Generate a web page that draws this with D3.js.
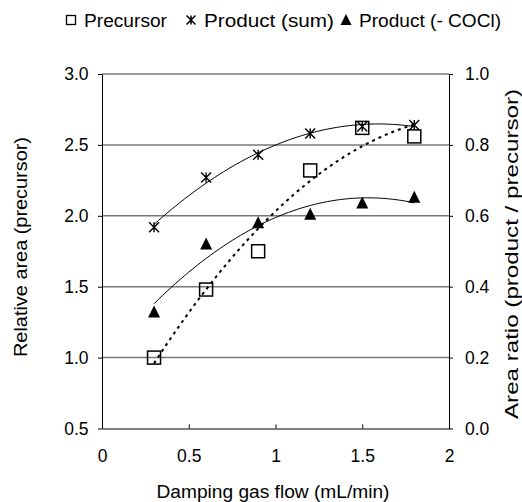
<!DOCTYPE html>
<html>
<head>
<meta charset="utf-8">
<script src="https://cdn.jsdelivr.net/npm/d3@7"></script>
<style>
body{margin:0;background:#fff}
text{font-family:"Liberation Sans",Arial,sans-serif;fill:#000}
</style>
</head>
<body>
<div id="chart"></div>
<script>
// data
let flow=[0.3,0.6,0.9,1.2,1.5,1.8]
let precursor=[1.0,1.48,1.75,2.32,2.62,2.56]          // left axis
let productSum=[0.568,0.708,0.772,0.832,0.852,0.856]  // right axis
let productNoCOCl=[0.328,0.52,0.58,0.604,0.636,0.652] // right axis
let xTicks=[0,0.5,1,1.5,2]
let leftTicks=[0.5,1.0,1.5,2.0,2.5,3.0]
let rightTicks=[0,0.2,0.4,0.6,0.8,1.0]
let legendNames=["Precursor","Product (sum)","Product (- COCl)"]

const width=522, height=502
const svg=d3.select("#chart").append("svg").attr("width",width).attr("height",height)

let x=d3.scaleLinear().domain([0,2]).range([102,449])
let yL=d3.scaleLinear().domain([0.5,3]).range([428.5,74])
let yR=d3.scaleLinear().domain([0,1]).range([428.5,74])

//2nd order polynomial trendline (least squares), like the spreadsheet one
function quadFit(xs,ys){
    let n=xs.length,sx=0,sx2=0,sx3=0,sx4=0,sy=0,sxy=0,sx2y=0
    xs.forEach((v,i)=>{sx+=v;sx2+=v*v;sx3+=v*v*v;sx4+=v*v*v*v;sy+=ys[i];sxy+=v*ys[i];sx2y+=v*v*ys[i]})
    let m=[[n,sx,sx2,sy],[sx,sx2,sx3,sxy],[sx2,sx3,sx4,sx2y]]
    for(let i=0;i<3;i++){
        for(let k=i+1;k<3;k++){
            let f=m[k][i]/m[i][i]
            for(let j=i;j<4;j++) m[k][j]-=f*m[i][j]
        }
    }
    let c=[0,0,0]
    for(let i=2;i>=0;i--){
        let s=m[i][3]
        for(let j=i+1;j<3;j++) s-=m[i][j]*c[j]
        c[i]=s/m[i][i]
    }
    return t=>c[0]+c[1]*t+c[2]*t*t
}
function trendPoints(xs,ys){
    let f=quadFit(xs,ys)
    return d3.range(0,61).map(i=>{let t=xs[0]+(xs[xs.length-1]-xs[0])*i/60;return [t,f(t)]})
}

//grid lines
svg.append("g").selectAll("line").data(leftTicks.slice(1)).enter().append("line")
    .attr("x1",x(0)).attr("x2",x(2)).attr("y1",d=>yL(d)).attr("y2",d=>yL(d))
    .attr("stroke","#777").attr("stroke-width",1.5)

//axes
let fmt=d3.format(".1f")
let gL=svg.append("g").attr("transform",`translate(${x(0)},0)`)
    .call(d3.axisLeft(yL).tickValues(leftTicks).tickFormat(fmt).tickSize(4).tickSizeOuter(0).tickPadding(9.5))
let gR=svg.append("g").attr("transform",`translate(${x(2)},0)`)
    .call(d3.axisRight(yR).tickValues(rightTicks).tickFormat(fmt).tickSize(4).tickSizeOuter(0).tickPadding(12))
let gB=svg.append("g").attr("transform",`translate(0,${yL(0.5)})`)
    .call(d3.axisBottom(x).tickValues(xTicks).tickFormat(d3.format("")).tickSize(-4).tickSizeOuter(0).tickPadding(21))
;[gL,gR,gB].forEach(g=>{
    g.selectAll("text").attr("font-size",17.5)
    g.attr("font-family",null)
    g.select(".domain").attr("stroke","#000")
})

//titles (lengths, glyphs a bit wide like the original)
function title(sel,len){return sel.attr("textLength",len).attr("lengthAdjust","spacingAndGlyphs")}
title(svg.append("text").attr("x",273).attr("y",498).attr("text-anchor","middle").attr("font-size",17.5)
    .text("Damping gas flow (mL/min)"),233)
title(svg.append("text").attr("transform","translate(27,247) rotate(-90)").attr("text-anchor","middle").attr("font-size",17.5)
    .text("Relative area (precursor)"),220)
title(svg.append("text").attr("transform","translate(518,254) rotate(-90)").attr("text-anchor","middle").attr("font-size",19)
    .text("Area ratio (product / precursor)"),330)

//trendlines
let lineL=d3.line().x(d=>x(d[0])).y(d=>yL(d[1]))
let lineR=d3.line().x(d=>x(d[0])).y(d=>yR(d[1]))
svg.append("path").attr("d",lineR(trendPoints(flow,productSum))).attr("fill","none").attr("stroke","#000").attr("stroke-width",1)
svg.append("path").attr("d",lineR(trendPoints(flow,productNoCOCl))).attr("fill","none").attr("stroke","#000").attr("stroke-width",1)
svg.append("path").attr("d",lineL(trendPoints(flow,precursor))).attr("fill","none").attr("stroke","#000").attr("stroke-width",2).attr("stroke-dasharray","3,4")

//marker shapes
function starPath(r){
    return `M0,${-r}L0,${r}M${-r},${-r}L${r},${r}M${-r},${r}L${r},${-r}`
}
function triPath(s){
    return `M0,${-s*0.55}L${s/2},${s*0.45}L${-s/2},${s*0.45}Z`
}

svg.append("g").selectAll("rect").data(flow).enter().append("rect")
    .attr("x",d=>x(d)-6.5).attr("y",(d,i)=>yL(precursor[i])-6.5).attr("width",13).attr("height",13)
    .attr("fill","none").attr("stroke","#000").attr("stroke-width",1.5)
svg.append("g").selectAll("path").data(flow).enter().append("path")
    .attr("transform",(d,i)=>`translate(${x(d)},${yR(productSum[i])})`)
    .attr("d",starPath(5)).attr("stroke","#000").attr("stroke-width",1.4).attr("fill","none")
svg.append("g").selectAll("path").data(flow).enter().append("path")
    .attr("transform",(d,i)=>`translate(${x(d)},${yR(productNoCOCl[i])})`)
    .attr("d",triPath(12)).attr("fill","#000")

//legend
let legend=svg.append("g").attr("transform","translate(0,20)")
let legX=[71,191,346]
let legLen=[83,130,142]
legend.append("rect").attr("x",legX[0]-4.5).attr("y",-4.5).attr("width",9).attr("height",9).attr("fill","#fff").attr("stroke","#000").attr("stroke-width",1.3)
legend.append("path").attr("transform",`translate(${legX[1]},0)`).attr("d",starPath(4.5)).attr("stroke","#000").attr("stroke-width",1.5).attr("fill","none")
legend.append("path").attr("transform",`translate(${legX[2]},0)`).attr("d",triPath(11)).attr("fill","#000")
legendNames.forEach((n,i)=>{
    title(legend.append("text").attr("x",legX[i]+13).attr("y",7).attr("font-size",18).text(n),legLen[i])
})
</script>
</body>
</html>
